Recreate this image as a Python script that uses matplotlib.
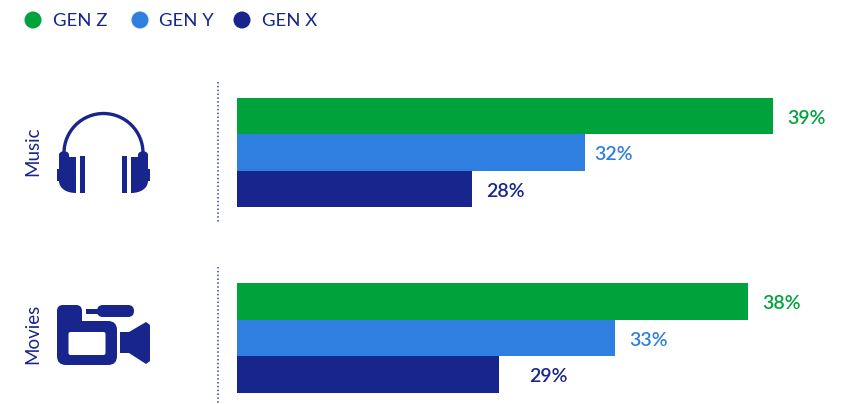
import matplotlib
matplotlib.use("Agg")
import matplotlib.pyplot as plt
from matplotlib.patches import Circle, Rectangle, FancyBboxPatch, Polygon, Arc, PathPatch
from matplotlib.path import Path

plt.rcParams['font.family'] = ['Lato', 'DejaVu Sans']

categories = ["Music", "Movies"]
series_names = ["GEN Z", "GEN Y", "GEN X"]
# printed percentages
gen_z_pct = [39, 38]
gen_y_pct = [32, 33]
gen_x_pct = [28, 29]
# drawn lengths, the bars are not to scale with the labels
gen_z_len = [39.0, 37.2]
gen_y_len = [25.3, 27.5]
gen_x_len = [17.1, 19.1]

GREEN = '#00A33B'
BLUE = '#2F7FE0'
NAVY = '#18258C'
colors = [GREEN, BLUE, NAVY]

W, H = 857, 404
fig = plt.figure(figsize=(W / 100, H / 100), dpi=100)

# bars
top, bottom = 97.7, 393
ax = fig.add_axes([237 / W, 1 - bottom / H, (W - 237) / W, (bottom - top) / H])
ax.set_xlim(0, (W - 237) / 13.74)
bar_h = 0.197
ax.set_ylim(1 + 1.5 * bar_h, -1.5 * bar_h)
ax.axis('off')

lengths = [gen_z_len, gen_y_len, gen_x_len]
pcts = [gen_z_pct, gen_y_pct, gen_x_pct]
pads = [[14, 14], [10, 14], [14, 30]]  # gap from bar end to label, px
for s, offset in enumerate([-bar_h, 0, bar_h]):
    for g in range(len(categories)):
        ax.barh(g + offset, lengths[s][g], height=bar_h, color=colors[s], linewidth=0)
        ax.annotate(f"{pcts[s][g]}%", (lengths[s][g], g + offset),
                    xytext=(pads[s][g] * 0.72, -1.6), textcoords='offset points',
                    ha='left', va='center', fontsize=14, fontweight='semibold',
                    color=colors[s])

# overlay in pixel coords for legend, icons and side labels
ov = fig.add_axes([0, 0, 1, 1], zorder=3)
ov.set_xlim(0, W)
ov.set_ylim(H, 0)
ov.axis('off')
ov.patch.set_alpha(0)

for name, col, cx, tx in zip(series_names, colors, [33, 140, 242], [53, 159, 262]):
    ov.add_patch(Circle((cx, 20), 8.5, color=col, lw=0))
    ov.text(tx, 21, name, color=NAVY, fontsize=13.3, ha='left', va='center')

for cat, y in zip(categories, [151, 334]):
    ov.text(33, y, cat, color=NAVY, fontsize=13.5, rotation=90, ha='center', va='center')

# dotted separators
ov.plot([218, 218], [82, 223], color=NAVY, lw=1.2, ls=(0, (0.9, 1.4)), alpha=0.8)
ov.plot([218, 218], [267, 403], color=NAVY, lw=1.2, ls=(0, (0.9, 1.4)), alpha=0.8)

# headphones icon
ov.add_patch(Arc((103.5, 153), 79, 79, theta1=180, theta2=360, color=NAVY, lw=2.4))


def cup(flip):
    fx = (lambda x: 207 - x) if flip else (lambda x: x)
    verts = [(59, 155), (59, 150), (69, 150), (69, 155), (69, 157), (76, 157), (76, 193),
             (66, 193), (59, 188), (59, 181), (57, 181), (57, 169), (59, 169), (59, 155)]
    codes = [Path.MOVETO, Path.CURVE4, Path.CURVE4, Path.CURVE4, Path.LINETO, Path.LINETO, Path.LINETO,
             Path.CURVE4, Path.CURVE4, Path.CURVE4, Path.LINETO, Path.LINETO, Path.LINETO, Path.CLOSEPOLY]
    ov.add_patch(PathPatch(Path([(fx(x), y) for x, y in verts], codes), color=NAVY, lw=0))
    ov.add_patch(Rectangle((min(fx(80), fx(85)), 156), 5, 37, color=NAVY, lw=0))


cup(False)
cup(True)

# camera icon
ov.add_patch(FancyBboxPatch((57, 321), 60, 44, boxstyle='round,pad=0,rounding_size=9', color=NAVY, lw=0))
ov.add_patch(FancyBboxPatch((57, 305), 25, 40, boxstyle='round,pad=0,rounding_size=6', color=NAVY, lw=0))
ov.add_patch(FancyBboxPatch((68.5, 332), 37, 23, boxstyle='round,pad=0,rounding_size=2', color='white', lw=0))
ov.add_patch(FancyBboxPatch((97, 305), 37, 12, boxstyle='round,pad=0,rounding_size=6', color=NAVY, lw=0))
ov.add_patch(Rectangle((86, 309), 12, 5, color=NAVY, lw=0))
ov.add_patch(Polygon([(120, 332), (129, 332), (146, 322), (150, 325), (150, 361), (146, 364),
                      (129, 353), (120, 353)], closed=True, color=NAVY, lw=0))

fig.savefig("out.png", dpi=100)
